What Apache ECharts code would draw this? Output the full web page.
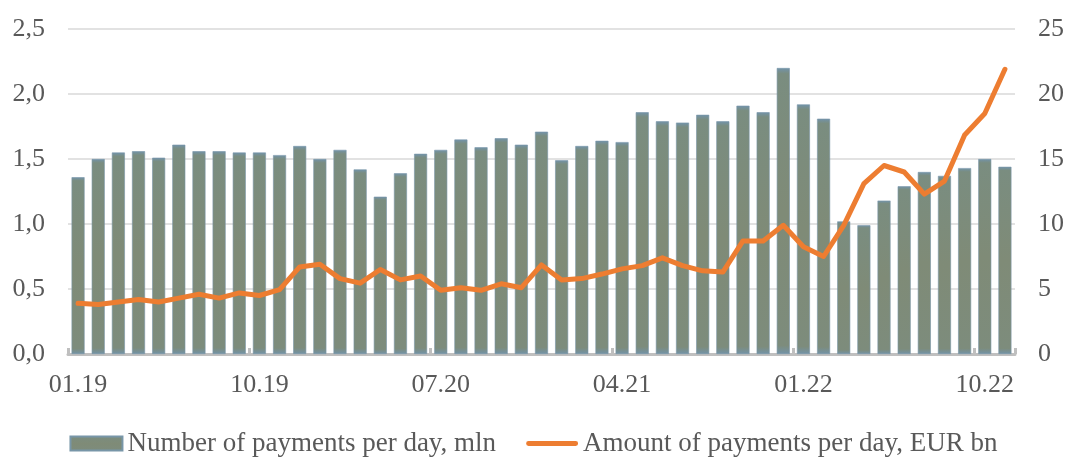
<!DOCTYPE html>
<html>
<head>
<meta charset="utf-8">
<script src="https://cdn.jsdelivr.net/npm/echarts@6/dist/echarts.min.js"></script>
<style>
html,body{margin:0;padding:0;background:#fff;}
#chart{width:1067px;height:458px;}
</style>
</head>
<body>
<div id="chart"></div>
<script>
// Categories: months 01.19 .. 11.22
const categories = [];
(function(){
  for (let y = 19; y <= 22; y++) {
    for (let m = 1; m <= 12; m++) {
      if (y === 22 && m > 11) break;
      categories.push((m < 10 ? '0' + m : '' + m) + '.' + y);
    }
  }
})();

const seriesNames = ['Number of payments per day, mln', 'Amount of payments per day, EUR bn'];

const paymentsCount = [
  1.36, 1.50, 1.55, 1.56, 1.51, 1.61, 1.56, 1.56, 1.55, 1.55, 1.53, 1.60,
  1.50, 1.57, 1.42, 1.21, 1.39, 1.54, 1.57, 1.65, 1.59, 1.66, 1.61, 1.71,
  1.49, 1.60, 1.64, 1.63, 1.86, 1.79, 1.78, 1.84, 1.79, 1.91, 1.86, 2.20,
  1.92, 1.81, 1.02, 0.99, 1.18, 1.29, 1.40, 1.37, 1.43, 1.50, 1.44
];

const paymentsAmount = [
  3.9, 3.8, 4.0, 4.2, 4.0, 4.3, 4.6, 4.3, 4.7, 4.5, 4.95, 6.7,
  6.9, 5.8, 5.45, 6.5, 5.7, 6.0, 4.9, 5.1, 4.9, 5.4, 5.1, 6.85,
  5.7, 5.8, 6.15, 6.55, 6.8, 7.4, 6.8, 6.4, 6.3, 8.7, 8.7, 9.9,
  8.25, 7.5, 9.9, 13.1, 14.5, 14.0, 12.3, 13.3, 16.85, 18.5, 21.9
];

const leftTicks = { min: 0, max: 2.5, interval: 0.5 };
const rightTicks = { min: 0, max: 25, interval: 5 };

const chart = echarts.init(document.getElementById('chart'), null, { renderer: 'canvas' });
const font = 'Liberation Serif';
const barGradient = new echarts.graphic.LinearGradient(0, 0, 0, 1, [
  { offset: 0, color: '#7193ab' },
  { offset: 0.02, color: '#7a8d80' },
  { offset: 0.5, color: '#7f8b77' },
  { offset: 0.97, color: '#7d8c7c' },
  { offset: 1, color: '#7293a8' }
]);

chart.setOption({
  animation: false,
  textStyle: { fontFamily: font },
  grid: { left: 68, right: 52, top: 29, bottom: 104 },
  legend: {
    bottom: 1,
    left: 'center',
    padding: [0, 5, 0, 5],
    itemGap: 30,
    itemWidth: 52,
    itemHeight: 14,
    textStyle: { fontFamily: font, fontSize: 27, color: '#595959' },
    data: [
      { name: seriesNames[0], icon: 'rect' },
      { name: seriesNames[1], icon: 'path://M2,0 L50,0 A2,2 0 0 1 50,5 L2,5 A2,2 0 0 1 2,0 Z' }
    ]
  },
  xAxis: {
    type: 'category',
    data: categories,
    boundaryGap: true,
    axisLine: { show: true, lineStyle: { color: '#bfbfbf', width: 3 } },
    axisTick: { show: true, inside: true, interval: 8, length: 6, lineStyle: { color: '#bfbfbf', width: 3 } },
    axisLabel: { interval: 8, margin: 18, fontSize: 26, color: '#595959', fontFamily: font },
    splitLine: { show: false }
  },
  yAxis: [
    {
      type: 'value',
      min: leftTicks.min, max: leftTicks.max, interval: leftTicks.interval,
      axisLine: { show: false },
      axisTick: { show: false },
      axisLabel: {
        fontSize: 26, color: '#595959', fontFamily: font, margin: 23,
        formatter: v => v.toFixed(1).replace('.', ',')
      },
      splitLine: { show: true, lineStyle: { color: '#d9d9d9', width: 1.5 } }
    },
    {
      type: 'value',
      min: rightTicks.min, max: rightTicks.max, interval: rightTicks.interval,
      axisLine: { show: false },
      axisTick: { show: false },
      axisLabel: { fontSize: 26, color: '#595959', fontFamily: font, margin: 23 },
      splitLine: { show: false }
    }
  ],
  series: [
    {
      name: seriesNames[0],
      type: 'bar',
      yAxisIndex: 0,
      data: paymentsCount,
      barWidth: 13,
      itemStyle: { color: barGradient, borderColor: '#7896a8', borderWidth: 0.6 }
    },
    {
      name: seriesNames[1],
      type: 'line',
      yAxisIndex: 1,
      data: paymentsAmount,
      symbol: 'none',
      smooth: false,
      lineStyle: { color: '#ed7d31', width: 5, cap: 'round', join: 'round' },
      itemStyle: { color: '#ed7d31' }
    }
  ]
});
</script>
</body>
</html>
